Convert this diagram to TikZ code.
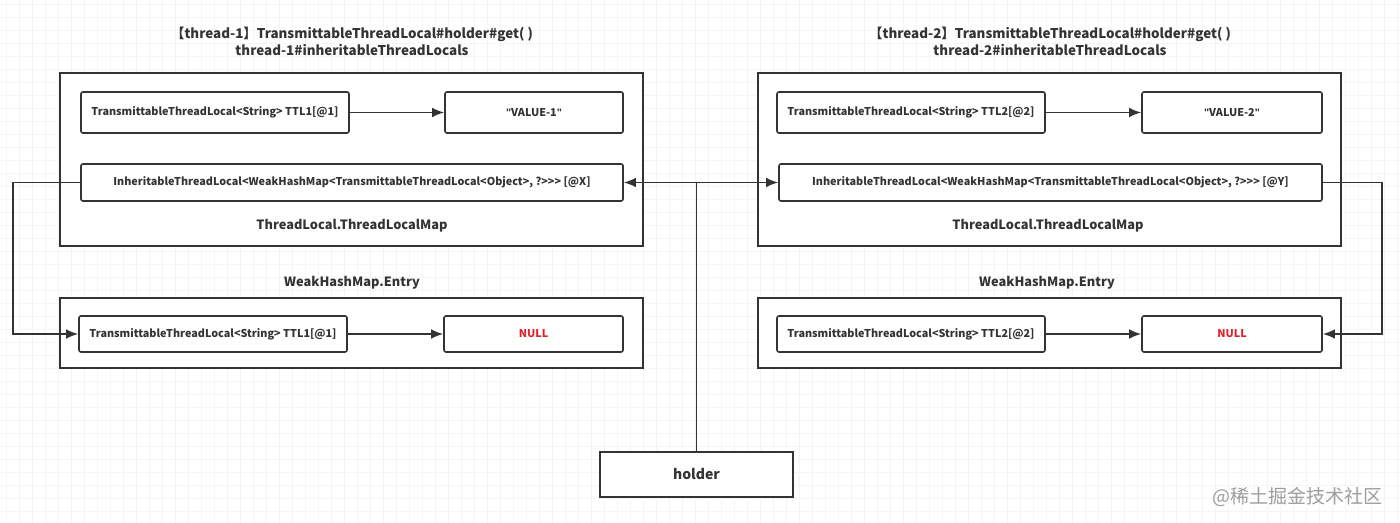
\documentclass[tikz,border=0pt]{standalone}
\usepackage{fontspec}
\setmainfont{Noto Sans CJK SC}
\newfontfamily\quotefont{Liberation Sans}
\usetikzlibrary{arrows.meta}

\definecolor{ink}{HTML}{333333}
\definecolor{nullred}{HTML}{E3202A}

\newcommand{\dq}{{\quotefont\symbol{34}}}

\tikzset{
    gridline/.style={draw=black!4, line width=0.4pt},
    mapbox/.style={draw=ink, line width=1pt, fill=white, minimum width=291.5pt, inner sep=0pt},
    cell/.style={draw=ink, line width=0.8pt, rounded corners=1pt, fill=white, inner sep=0pt,
        text=ink, font=\fontsize{5.4}{6.5}\selectfont\bfseries},
    lbl/.style={text=ink, font=\fontsize{6.4}{8}\selectfont\bfseries},
    head/.style={text=ink, align=center, font=\fontsize{6.7}{8.6}\selectfont\bfseries},
    link/.style={draw=ink, line width=0.8pt, -{Latex[length=6pt, width=4.8pt]}},
}

\begin{document}
\begin{tikzpicture}[x=0.5pt, y=-0.5pt]

            % the frame
            \useasboundingbox[fill=white] (0,0) rectangle (1400,523);

            % the paper
            \foreach \gx in {6,19,...,1400} {
                \draw[gridline] (\gx,0) -- (\gx,523);
            }
            \foreach \gy in {4,17,...,523} {
                \draw[gridline] (0,\gy) -- (1400,\gy);
            }

            % thread-1
            \node[head] (head1) at (352,41) {【thread-1】TransmittableThreadLocal\#holder\#get( )\\thread-1\#inheritableThreadLocals};
            \node[mapbox, minimum height=86.5pt] (map1) at (351.5,159.5) {};
            \node[cell, minimum width=134pt, minimum height=20.5pt] (key1) at (215,112.5) {TransmittableThreadLocal<String> TTL1[@1]};
            \node[cell, minimum width=89pt, minimum height=20.5pt] (val1) at (534,112.5) {\dq VALUE-1\dq};
            \node[cell, minimum width=271pt, minimum height=18.5pt] (inh1) at (352,182.5) {InheritableThreadLocal<WeakHashMap<TransmittableThreadLocal<Object>, ?>{}>{}> [@X]};
            \node[lbl] (tlm1) at (352,226) {ThreadLocal.ThreadLocalMap};

            \node[lbl] (whm1) at (352,283) {WeakHashMap.Entry};
            \node[mapbox, minimum height=35pt] (entry1) at (351.5,333) {};
            \node[cell, minimum width=134pt, minimum height=18pt] (ekey1) at (213,334) {TransmittableThreadLocal<String> TTL1[@1]};
            \node[cell, minimum width=89.5pt, minimum height=18pt, text=nullred] (enull1) at (533.5,334) {NULL};

            % thread-2
            \node[head] (head2) at (1050,41) {【thread-2】TransmittableThreadLocal\#holder\#get( )\\thread-2\#inheritableThreadLocals};
            \node[mapbox, minimum height=86.5pt] (map2) at (1049.5,159.5) {};
            \node[cell, minimum width=134pt, minimum height=20.5pt] (key2) at (911,112.5) {TransmittableThreadLocal<String> TTL2[@2]};
            \node[cell, minimum width=90pt, minimum height=20.5pt] (val2) at (1232,112.5) {\dq VALUE-2\dq};
            \node[cell, minimum width=271.5pt, minimum height=18.5pt] (inh2) at (1050.5,182.5) {InheritableThreadLocal<WeakHashMap<TransmittableThreadLocal<Object>, ?>{}>{}> [@Y]};
            \node[lbl] (tlm2) at (1048,226) {ThreadLocal.ThreadLocalMap};

            \node[lbl] (whm2) at (1047,283) {WeakHashMap.Entry};
            \node[mapbox, minimum height=35pt] (entry2) at (1049,333) {};
            \node[cell, minimum width=134pt, minimum height=18pt] (ekey2) at (911,334) {TransmittableThreadLocal<String> TTL2[@2]};
            \node[cell, minimum width=90pt, minimum height=18pt, text=nullred] (enull2) at (1232,334) {NULL};

            % holder
            \node[draw=ink, line width=1pt, fill=white, minimum width=96.5pt, minimum height=22.5pt,
                text=ink, font=\fontsize{7}{8}\selectfont\bfseries] (holder) at (696.5,474.5) {holder};

            % links
            \draw[link] (key1) -- (val1);
            \draw[link] (ekey1) -- (enull1);
            \draw[link] (key2) -- (val2);
            \draw[link] (ekey2) -- (enull2);
            \draw[link] (inh1.west) -- ++(-67,0) |- (ekey1.west);
            \draw[link] (inh2.east) -- ++(59,0) |- (enull2.east);
            \draw[link] (holder.north) |- (inh1.east);
            \draw[link] (holder.north) |- (inh2.west);

            % watermark
            \node[text=black!38, font=\fontsize{9.5}{10}\selectfont] (mark) at (1297,497) {@稀土掘金技术社区};

        \end{tikzpicture}
\end{document}
